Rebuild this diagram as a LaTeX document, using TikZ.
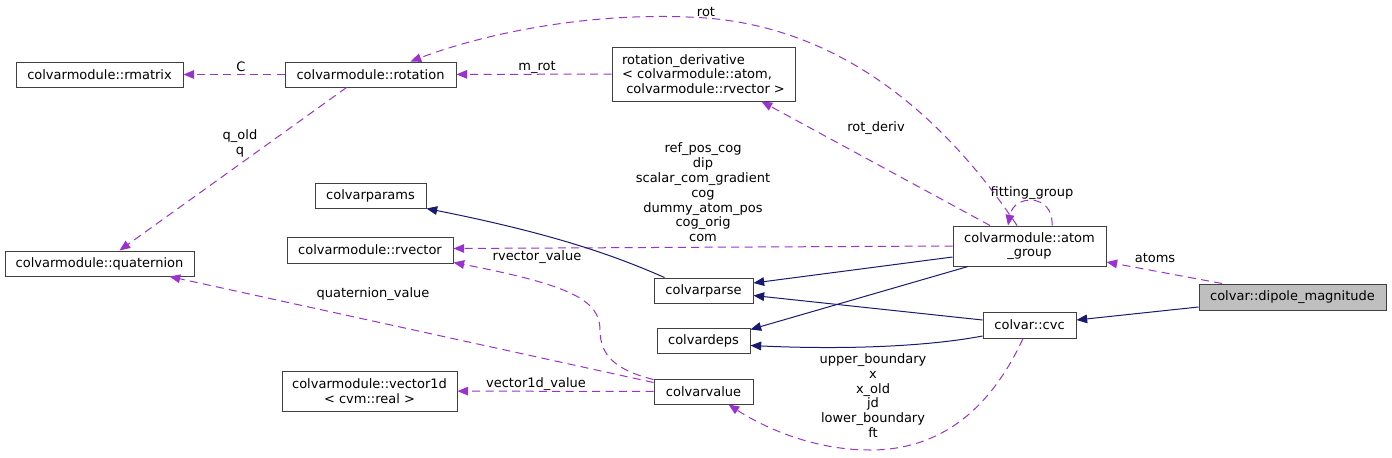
\documentclass[tikz,border=0pt]{standalone}
\usepackage{fontspec}
\setmainfont{DejaVu Sans}
\usepackage{tikz}
\usetikzlibrary{arrows.meta,calc}
\definecolor{depcol}{HTML}{9A32CD}
\definecolor{inhcol}{HTML}{191970}
\definecolor{boxcol}{HTML}{404040}

\begin{document}
\begin{tikzpicture}[
		x=0.75pt, y=-0.75pt,
		every node/.style={font=\fontsize{9.75}{11.1}\selectfont},
		cls/.style={
			draw=boxcol,
			line width=0.75pt,
			fill=white,
			inner sep=0pt,
			minimum height=18.75pt,
			align=center
		},
		lbl/.style={inner sep=0pt, align=center},
		dep/.style={-{Triangle[length=8pt,width=6.5pt]},depcol,line width=0.75pt,dash pattern=on 6pt off 4pt},
		inh/.style={-{Triangle[length=8pt,width=6.5pt]},inhcol,line width=0.75pt}
		]
		
		\useasboundingbox (0,0) rectangle (1392,457);
		
		\node[cls,minimum width=125.25pt] (rmatrix) at (99.5,74.5) {colvarmodule::rmatrix};
		\node[cls,minimum width=128.25pt] (rotation) at (370.5,74.5) {colvarmodule::rotation};
		\node[cls,minimum width=137.25pt,minimum height=40.5pt,align=left] (rotdev) at (703.5,74) {rotation\_derivative\\< colvarmodule::atom,\\\ colvarmodule::rvector >};
		\node[cls,minimum width=83.25pt] (params) at (370.5,195.5) {colvarparams};
		\node[cls,minimum width=124.5pt,minimum height=19.5pt] (rvector) at (370,250) {colvarmodule::rvector};
		\node[cls,minimum width=141.75pt] (quat) at (99.5,263.5) {colvarmodule::quaternion};
		\node[cls,minimum width=114.75pt,minimum height=30pt] (atomgrp) at (1029.5,246) {colvarmodule::atom\\\_group};
		\node[cls,fill=black!25,minimum width=140.25pt,minimum height=19.5pt] (dipole) at (1292.5,297) {colvar::dipole\_magnitude};
		\node[cls,minimum width=74.25pt] (parse) at (703.5,290.5) {colvarparse};
		\node[cls,minimum width=69.75pt,minimum height=19.5pt] (cvc) at (1029.5,325) {colvar::cvc};
		\node[cls,minimum width=69.75pt] (deps) at (703.5,340.5) {colvardeps};
		\node[cls,minimum width=74.25pt] (value) at (703.5,391.5) {colvarvalue};
		\node[cls,minimum width=131.25pt,minimum height=30pt] (vec1d) at (369.5,391) {colvarmodule::vector1d\\< cvm::real >};
		
		\node[lbl] (lC) at (241,67) {C};
		\node[lbl] (lmrot) at (537,67) {m\_rot};
		\node[lbl] (lq) at (240,143.5) {q\_old\\q};
		\node[lbl] (lrot) at (706,12) {rot};
		\node[lbl] (lrotderiv) at (876,128) {rot\_deriv};
		\node[lbl] (lcog) at (703,192.5) {ref\_pos\_cog\\dip\\scalar\_com\_gradient\\cog\\dummy\_atom\_pos\\cog\_orig\\com};
		\node[lbl] (lfit) at (1032,193) {fitting\_group};
		\node[lbl] (latoms) at (1155,258) {atoms};
		\node[lbl] (lrvec) at (537,257) {rvector\_value};
		\node[lbl] (lquat) at (373,294) {quaternion\_value};
		\node[lbl] (lvec1d) at (536,384) {vector1d\_value};
		\node[lbl] (lbound) at (873,395.5) {upper\_boundary\\x\\x\_old\\jd\\lower\_boundary\\ft};
		
		\draw[dep] (rotation) -- (rmatrix);
		\draw[dep] (rotdev) -- (rotation);
		\draw[dep] ($(rotation.south)+(-24,0)$) -- ($(quat.north)+(20,0)$);
		\draw[dep] ($(atomgrp.north)+(-12.5,0)$) .. controls (960,140) and (860,30) .. (706,18)
			.. controls (590,10) and (480,35) .. ($(rotation.north)+(40,0)$);
		\draw[dep] ($(atomgrp.north)+(-39.5,0)$) -- ($(rotdev.south)+(58,0)$);
		\draw[dep] (atomgrp.west) -- ($(rvector.east)+(0,-1.5)$);
		\draw[dep] ($(atomgrp.north)+(22.5,0)$) .. controls +(2,-32) and +(6,-32) .. ($(atomgrp.north)+(-21.5,0)$);
		\draw[dep] ($(dipole.north)+(-70.5,0)$) -- ($(atomgrp.east)+(0,16)$);
		
		\draw[inh] ($(dipole.west)+(0,10)$) -- ($(cvc.east)+(0,-5)$);
		\draw[inh] ($(atomgrp.west)+(0,11)$) -- ($(parse.east)+(0,-7.5)$);
		\draw[inh] ($(atomgrp.south)+(-61.5,0)$) -- ($(deps.north east)+(0,2)$);
		\draw[inh] ($(parse.north)+(-39,0)$) .. controls (620,258) and (560,235) .. (params.south east);
		\draw[inh] ($(cvc.west)+(0,-5)$) -- ($(parse.east)+(0,5)$);
		\draw[inh] ($(cvc.west)+(0,11)$) .. controls (930,346) and (850,350) .. ($(deps.east)+(0,5)$);
		
		\draw[dep] ($(value.north west)+(0,1)$) .. controls (615,370) and (600,355) .. (600,330)
			.. controls (600,300) and (570,285) .. ($(rvector.south east)+(0,-1)$);
		\draw[dep] ($(value.west)+(0,-9)$) -- ($(quat.south)+(70,0)$);
		\draw[dep] (value) -- (vec1d);
		\draw[dep] ($(cvc.south)+(-6.5,0)$) .. controls (990,410) and (940,450) .. (870,450)
			.. controls (810,450) and (760,425) .. ($(value.south)+(25,0)$);
		
	\end{tikzpicture}
\end{document}
